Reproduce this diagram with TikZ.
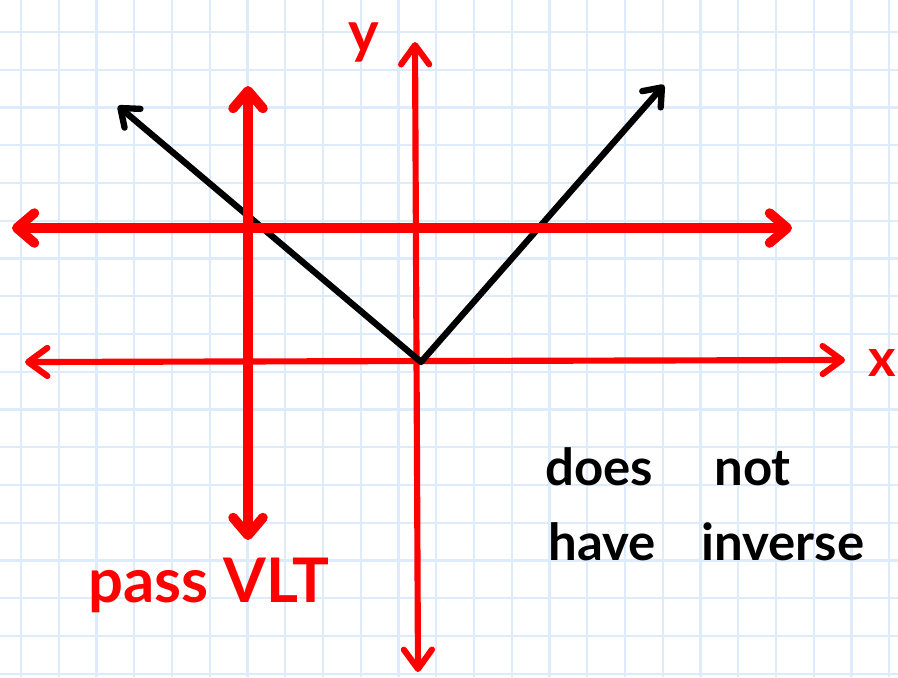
\documentclass[tikz,border=0pt]{standalone}
\usepackage{fontspec}
\setmainfont{Lato}
\usetikzlibrary{arrows.meta}
\definecolor{gridblue}{HTML}{DDEBFA}
\definecolor{penred}{HTML}{FF0000}

\begin{document}
\begin{tikzpicture}[x=0.02cm, y=-0.02cm,
    gridline/.style={draw=gridblue, line width=1.3pt},
    axis/.style={draw=penred, line width=3.5pt, line cap=round, line join=round,
        {Straight Barb[round, length=11pt, width=16pt]}-{Straight Barb[round, length=11pt, width=16pt]}},
    testline/.style={draw=penred, line width=5.5pt, line cap=round, line join=round,
        {Straight Barb[round, length=10pt, width=17pt]}-{Straight Barb[round, length=10pt, width=17pt]}},
    graph/.style={draw=black, line width=3.6pt, line cap=round, line join=round,
        {Straight Barb[round, length=9pt, width=14pt]}-{Straight Barb[round, length=9pt, width=14pt]}},
    hand/.style={inner sep=0pt, anchor=base west},
]
\useasboundingbox (0,0) rectangle (898,677);
\fill[white] (0,0) rectangle (898,677);

% grid paper
\foreach \gx in {0,...,23}
    \draw[gridline] ({21+37.75*\gx},0) -- ({21+37.75*\gx},677);
\foreach \gy in {0,...,17}
    \draw[gridline] (0,{32+37.75*\gy}) -- (898,{32+37.75*\gy});

\coordinate (xl) at (25,362);
\coordinate (xr) at (845,360);
\coordinate (yt) at (415,42);
\coordinate (yb) at (418,672);
\coordinate (hl) at (12,228);
\coordinate (hr) at (792,228);
\coordinate (vt) at (248,86);
\coordinate (vb) at (248,540);
\coordinate (vtx) at (421,362);
\coordinate (lt) at (118,106);
\coordinate (rt) at (664,85);

% axes
\draw[axis] (xl) -- (xr);
\draw[axis] (yb) -- (yt);
\node[hand, text=penred, font=\bfseries\fontsize{30}{30}\selectfont] (xlab) at (868,376) {x};
\node[hand, text=penred, font=\bfseries\fontsize{33}{33}\selectfont] (ylab) at (348,52) {y};

% absolute value graph
\draw[graph] (lt) -- (vtx) -- (rt);

% line tests
\draw[testline] (hl) -- (hr);
\draw[testline] (vt) -- (vb);

\node[hand, text=penred, font=\bfseries\fontsize{35}{35}\selectfont] (pass) at (88,602) {pass VLT};
\node[hand, font=\bfseries\fontsize{29}{29}\selectfont] (note1) at (545,485) {does\hspace{1.2em}not};
\node[hand, font=\bfseries\fontsize{29}{29}\selectfont] (note2) at (548,560) {have\hspace{0.9em}inverse};
\end{tikzpicture}
\end{document}
